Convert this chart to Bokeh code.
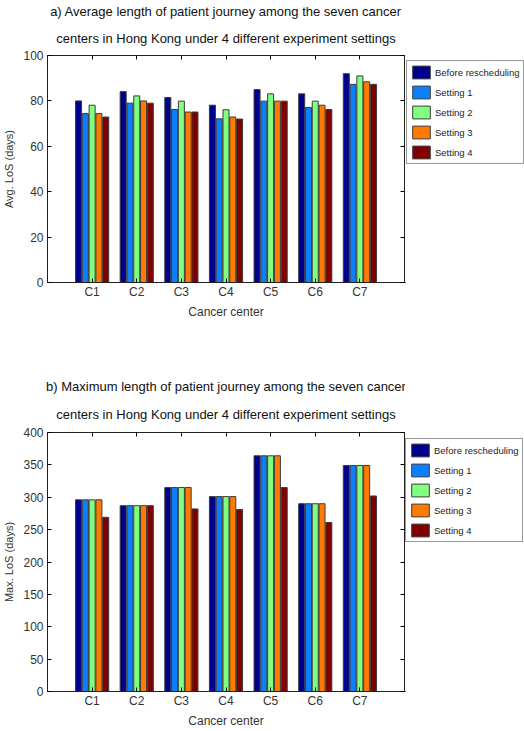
from bokeh.plotting import figure
from bokeh.models import (Range1d, FixedTicker, LinearAxis, Legend, LegendItem,
                          Title, ColumnDataSource)
from bokeh.layouts import column, row
from bokeh.embed import file_html
from bokeh.resources import INLINE

centers = ["C1", "C2", "C3", "C4", "C5", "C6", "C7"]
series = ["Before rescheduling", "Setting 1", "Setting 2", "Setting 3", "Setting 4"]

avg_before = [80.0, 84.1, 81.5, 78.1, 85.0, 83.1, 92.0]
avg_s1 = [74.4, 79.0, 76.2, 72.1, 79.9, 77.1, 87.3]
avg_s2 = [78.1, 82.2, 79.9, 76.1, 83.1, 79.9, 91.0]
avg_s3 = [74.4, 80.0, 75.1, 72.9, 79.9, 78.1, 88.4]
avg_s4 = [72.9, 79.0, 75.1, 72.0, 79.9, 76.2, 87.3]

max_before = [296, 287, 315, 301, 364, 290, 349]
max_s1 = [296, 287, 315, 301, 364, 290, 349]
max_s2 = [296, 287, 315, 301, 364, 290, 349]
max_s3 = [296, 287, 315, 301, 364, 290, 349]
max_s4 = [269, 287, 282, 281, 315, 261, 302]

avg_ticks = [0, 20, 40, 60, 80, 100]
max_ticks = [0, 50, 100, 150, 200, 250, 300, 350, 400]

colors = ["#00008F", "#0A80FF", "#80FF80", "#FF7A00", "#800000"]

FONT = "Liberation Sans"
STEP = 0.152
BAR_W = 0.135
CHART_W = 405
LEG_W = 524 - CHART_W


def make_chart(t1, t2, ylabel, yticks, data, height, top, bottom, t2_standoff):
    p = figure(width=CHART_W, height=height, output_backend="svg", toolbar_location=None,
               x_range=Range1d(0, len(centers) + 1),
               y_range=Range1d(yticks[0], yticks[-1]),
               min_border_left=40, min_border_right=1,
               min_border_top=top, min_border_bottom=bottom)
    p.xgrid.visible = False
    p.ygrid.visible = False
    p.outline_line_color = "#222222"
    p.outline_line_width = 1
    p.background_fill_color = "white"
    p.border_fill_color = "white"

    xpos = list(range(1, len(centers) + 1))
    for j, (name, vals) in enumerate(zip(series, data)):
        src = ColumnDataSource(dict(x=[c + (j - 2) * STEP for c in xpos], top=vals))
        p.vbar(x="x", top="top", width=BAR_W, source=src,
               fill_color=colors[j], line_color="#3c3c3c", line_width=1)

    xa = p.xaxis[0]
    xa.ticker = FixedTicker(ticks=xpos)
    xa.major_label_overrides = {x: c for x, c in zip(xpos, centers)}
    xa.axis_label = "Cancer center"
    xa.axis_label_text_font = FONT
    xa.axis_label_text_font_style = "normal"
    xa.axis_label_text_font_size = "12px"
    xa.axis_label_text_color = "#333333"
    xa.axis_label_standoff = 3
    xa.major_label_text_font = FONT
    xa.major_label_text_font_size = "12px"
    xa.major_label_text_color = "#333333"
    xa.major_label_standoff = 2
    xa.major_tick_in = 4
    xa.major_tick_out = 0
    xa.minor_tick_line_color = None
    xa.axis_line_color = "#222222"

    ya = p.yaxis[0]
    ya.ticker = FixedTicker(ticks=yticks)
    ya.axis_label = ylabel
    ya.axis_label_text_font = FONT
    ya.axis_label_text_font_style = "normal"
    ya.axis_label_text_font_size = "11px"
    ya.axis_label_text_color = "#333333"
    ya.axis_label_standoff = 5
    ya.major_label_text_font = FONT
    ya.major_label_text_font_size = "12px"
    ya.major_label_text_color = "#333333"
    ya.major_label_standoff = 4
    ya.major_tick_in = 4
    ya.major_tick_out = 0
    ya.minor_tick_line_color = None
    ya.axis_line_color = "#222222"

    top_ax = LinearAxis(ticker=FixedTicker(ticks=xpos), major_label_text_font_size="0px",
                        major_tick_in=4, major_tick_out=0, minor_tick_line_color=None,
                        major_label_standoff=0, axis_line_color="#222222")
    right_ax = LinearAxis(ticker=FixedTicker(ticks=yticks), major_label_text_font_size="0px",
                          major_tick_in=4, major_tick_out=0, minor_tick_line_color=None,
                          major_label_standoff=0, axis_line_color="#222222")
    p.add_layout(top_ax, "above")
    p.add_layout(right_ax, "right")

    p.add_layout(Title(text=t2, align="center", text_font=FONT, text_font_size="13px",
                       text_font_style="normal", text_color="#111111",
                       standoff=t2_standoff), "above")
    p.add_layout(Title(text=t1, align="center", text_font=FONT, text_font_size="13px",
                       text_font_style="normal", text_color="#111111", standoff=0), "above")
    return p


def make_legend(height, loc):
    q = figure(width=LEG_W, height=height, output_backend="svg", toolbar_location=None,
               x_range=Range1d(1, 2), y_range=Range1d(1, 2),
               min_border_left=0, min_border_right=0, min_border_top=0, min_border_bottom=0)
    q.axis.visible = False
    q.grid.visible = False
    q.outline_line_color = None
    items = []
    for j, name in enumerate(series):
        # legend swatch only (zero-size, outside the visible range)
        r = q.vbar(x=[0], top=[0], width=0, fill_color=colors[j],
                   line_color="#3c3c3c", line_width=1)
        items.append(LegendItem(label=name, renderers=[r]))
    legend = Legend(items=items, location=loc, glyph_width=22, glyph_height=16, spacing=4,
                    padding=3, margin=0, label_standoff=3,
                    label_text_font=FONT, label_text_font_size="9.5px",
                    label_text_color="#222222", label_height=16,
                    border_line_color="#333333", border_line_width=1,
                    background_fill_color="white", background_fill_alpha=1.0)
    q.add_layout(legend, "center")
    return q


pa = make_chart("a) Average length of patient journey among the seven cancer",
                "centers in Hong Kong under 4 different experiment settings",
                "Avg. LoS (days)", avg_ticks,
                [avg_before, avg_s1, avg_s2, avg_s3, avg_s4],
                345, 55, 63, 20)
la = make_legend(345, (1, 118))
pb = make_chart("b) Maximum length of patient journey among the seven cancer",
                "centers in Hong Kong under 4 different experiment settings",
                "Max. LoS (days)", max_ticks,
                [max_before, max_s1, max_s2, max_s3, max_s4],
                386, 87, 40, 22)
lb = make_legend(386, (0, 149))

layout = column(row(pa, la, spacing=0), row(pb, lb, spacing=0), spacing=0)
open("out.html", "w").write(file_html(layout, INLINE))
